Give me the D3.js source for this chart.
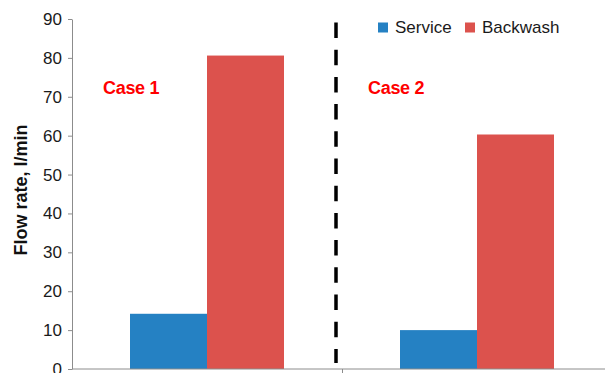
<!DOCTYPE html>
<html>
<head>
<meta charset="utf-8">
<script src="https://cdn.jsdelivr.net/npm/d3@7"></script>
<style>
  html, body { margin: 0; padding: 0; background: #fff; }
  svg { display: block; font-family: "Liberation Sans", Arial, sans-serif; }
</style>
</head>
<body>
<svg id="chart" width="605" height="373"></svg>
<script>
// Flow rate per case, service vs. backwash
const categories = ["Case 1", "Case 2"];
const seriesNames = ["Service", "Backwash"];
const serviceValues = [14.2, 10.0];
const backwashValues = [80.6, 60.3];
const yTicks = [0, 10, 20, 30, 40, 50, 60, 70, 80, 90];
const colors = ["#2581c3", "#dc524d"];

const svg = d3.select("#chart");
const margin = { left: 72, top: 19, bottom: 369 };

const x = d3.scaleBand().domain(categories).range([margin.left, margin.left + 540]).paddingInner(0).paddingOuter(0);
const xs = d3.scaleBand().domain(seriesNames).range([58, 212]).padding(0);
const y = d3.scaleLinear().domain([0, 90]).range([margin.bottom, margin.top]);

const rows = categories.map((c, i) => ({ cat: c, values: [serviceValues[i], backwashValues[i]] }));

// bars
const groups = svg.append("g").selectAll("g").data(rows).join("g")
  .attr("transform", d => `translate(${x(d.cat)},0)`);
groups.selectAll("rect")
  .data(d => d.values.map((v, j) => ({ name: seriesNames[j], v, j })))
  .join("rect")
  .attr("x", d => xs(d.name))
  .attr("width", xs.bandwidth())
  .attr("y", d => y(d.v))
  .attr("height", d => y(0) - y(d.v))
  .attr("fill", d => colors[d.j]);

// y axis
const yAxis = svg.append("g").attr("transform", `translate(${margin.left},0)`)
  .call(d3.axisLeft(y).tickValues(yTicks).tickSize(4).tickSizeOuter(0).tickPadding(6));
yAxis.select(".domain").attr("stroke", "#8c8c8c");
yAxis.selectAll(".tick line").attr("stroke", "#8c8c8c");
yAxis.selectAll(".tick text").attr("font-size", 17).attr("fill", "#1a1a1a")
  .attr("font-family", "Liberation Sans, Arial, sans-serif");

// x axis: ticks at category boundaries, no labels
const xAxisG = svg.append("g").attr("transform", `translate(0,${margin.bottom})`);
xAxisG.append("line").attr("x1", margin.left).attr("x2", 605).attr("y1", 0).attr("y2", 0)
  .attr("stroke", "#8c8c8c");
xAxisG.selectAll("line.tk").data(categories.slice(1)).join("line").attr("class", "tk")
  .attr("x1", d => x(d) + 0.5).attr("x2", d => x(d) + 0.5)
  .attr("y1", 0).attr("y2", 5).attr("stroke", "#8c8c8c");

// dashed separator between the two cases
const sepX = x(categories[1]) - 6;
svg.append("line")
  .attr("x1", sepX).attr("x2", sepX)
  .attr("y1", y(89.1)).attr("y2", y(0) - 6)
  .attr("stroke", "#000").attr("stroke-width", 3.5)
  .attr("stroke-dasharray", "15.5 11.7");

// case annotations
const caseLabelPos = [{ dx: 31, v: 70.8 }, { dx: 26, v: 70.8 }];
svg.selectAll("text.case").data(categories).join("text").attr("class", "case")
  .attr("x", (d, i) => x(d) + caseLabelPos[i].dx)
  .attr("y", (d, i) => y(caseLabelPos[i].v))
  .attr("fill", "#ff0000").attr("font-weight", "bold").attr("font-size", 18)
  .attr("letter-spacing", -0.3)
  .text(d => d);

// y axis title
svg.append("text")
  .attr("transform", `translate(27,190) rotate(-90)`)
  .attr("text-anchor", "middle")
  .attr("font-weight", "bold").attr("font-size", 18).attr("fill", "#111")
  .text("Flow rate,  l/min");

// legend
const legendX = [378, 465];
const legend = svg.append("g").selectAll("g").data(seriesNames).join("g")
  .attr("transform", (d, i) => `translate(${legendX[i]},22.5)`);
legend.append("rect").attr("width", 10).attr("height", 10).attr("fill", (d, i) => colors[i]);
legend.append("text").attr("x", 17).attr("y", 10).attr("font-size", 17).attr("fill", "#1a1a1a")
  .text(d => d);
</script>
</body>
</html>
